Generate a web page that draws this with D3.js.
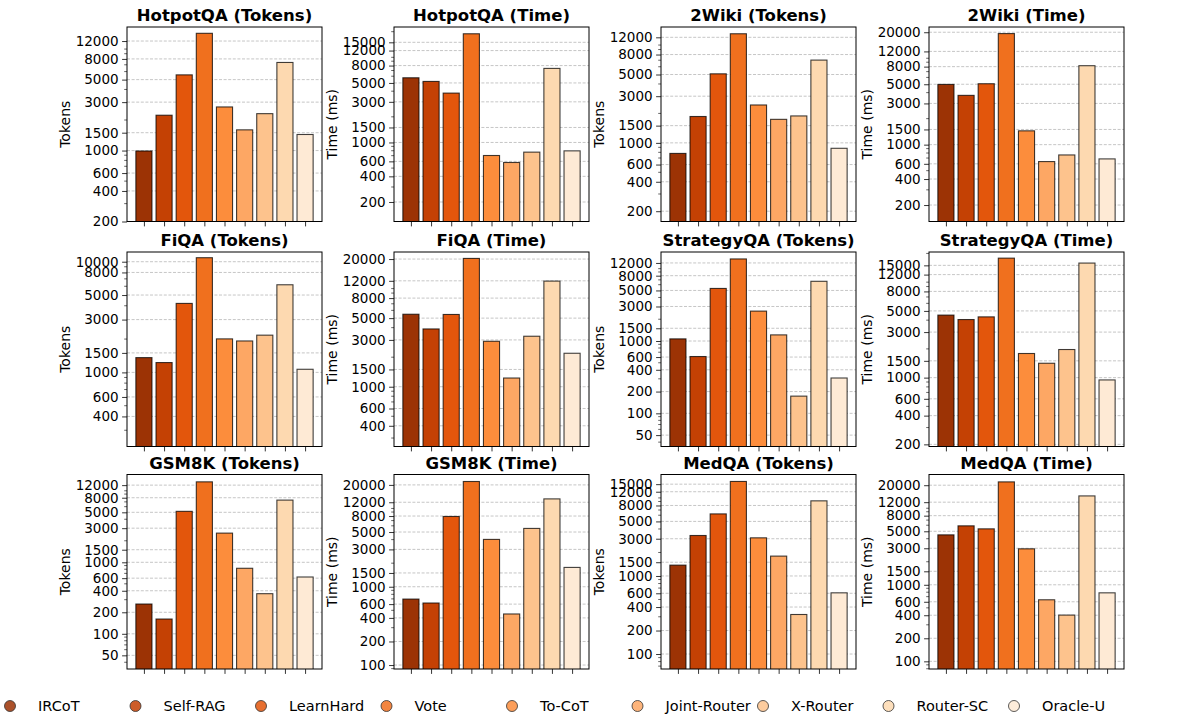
<!DOCTYPE html>
<html>
<head>
<meta charset="utf-8">
<script src="https://cdn.jsdelivr.net/npm/d3@7"></script>
<style>
    body { margin: 0; background: #fff; }
    svg { font-family: "DejaVu Sans", sans-serif; }
</style>
</head>
<body>
<div id="chart"></div>
<script>
// methods + bar colours (Oranges, dark -> light)
var methods = ['IRCoT', 'Self-RAG', 'LearnHard', 'Vote', 'To-CoT', 'Joint-Router', 'X-Router', 'Router-SC', 'Oracle-U'];
var colors = ['#9c3305', '#c44104', '#e3560c', '#f0701e', '#fc8d3c', '#fda764', '#fdc38d', '#fdd9b0', '#feead5'];

// panel titles / y labels, row by row
var titles = ['HotpotQA (Tokens)', 'HotpotQA (Time)', '2Wiki (Tokens)', '2Wiki (Time)',
              'FiQA (Tokens)', 'FiQA (Time)', 'StrategyQA (Tokens)', 'StrategyQA (Time)',
              'GSM8K (Tokens)', 'GSM8K (Time)', 'MedQA (Tokens)', 'MedQA (Time)'];
var yLabels = ['Tokens', 'Time (ms)', 'Tokens', 'Time (ms)',
               'Tokens', 'Time (ms)', 'Tokens', 'Time (ms)',
               'Tokens', 'Time (ms)', 'Tokens', 'Time (ms)'];

// values per panel (same order as methods)
var hotpotTokens = [990, 2230, 5570, 14300, 2690, 1600, 2310, 7380, 1440];
var hotpotTime = [5750, 5210, 3800, 18900, 703, 582, 770, 7410, 797];
var wikiTokens = [780, 1860, 5080, 13050, 2440, 1740, 1885, 7020, 880];
var wikiTime = [4980, 3720, 5070, 19300, 1445, 637, 760, 8200, 684];
var fiqaTokens = [1360, 1227, 4200, 10870, 2008, 1923, 2170, 6190, 1067];
var fiqaTime = [5480, 3880, 5450, 20300, 2905, 1227, 3270, 11920, 2193];
var strategyTokens = [1070, 610, 5330, 13630, 2590, 1215, 173, 6690, 308];
var strategyTime = [4520, 4060, 4330, 17850, 1790, 1415, 1970, 15850, 946];
var gsmTokens = [261, 161, 5160, 13340, 2560, 825, 364, 7410, 623];
var gsmTime = [696, 620, 7900, 22100, 4025, 449, 5560, 13250, 1766];
var medTokens = [1377, 3300, 6240, 16250, 3080, 1797, 321, 9170, 608];
var medTime = [4490, 5890, 5380, 22100, 2950, 637, 402, 14490, 785];

var panelValues = [hotpotTokens, hotpotTime, wikiTokens, wikiTime,
                   fiqaTokens, fiqaTime, strategyTokens, strategyTime,
                   gsmTokens, gsmTime, medTokens, medTime];

// y-axis tick labels per panel
var ticksA = [200, 400, 600, 1000, 1500, 3000, 5000, 8000, 12000];
var ticksB = [200, 400, 600, 1000, 1500, 3000, 5000, 8000, 12000, 15000];
var ticksC = [200, 400, 600, 1000, 1500, 3000, 5000, 8000, 12000, 20000];
var ticksD = [400, 600, 1000, 1500, 3000, 5000, 8000, 10000];
var ticksE = [400, 600, 1000, 1500, 3000, 5000, 8000, 12000, 20000];
var ticksF = [50, 100, 200, 400, 600, 1000, 1500, 3000, 5000, 8000, 12000];
var ticksG = [100, 200, 400, 600, 1000, 1500, 3000, 5000, 8000, 12000, 20000];
var ticksH = [100, 200, 400, 600, 1000, 1500, 3000, 5000, 8000, 12000, 15000];
var panelTicks = [ticksA, ticksB, ticksA, ticksC,
                  ticksD, ticksE, ticksF, ticksB,
                  ticksF, ticksG, ticksH, ticksG];

// y ranges (log) per panel
var panelDomains = [[200, 16500], [118, 22700], [157, 15300], [129, 23000],
                    [214, 12240], [246, 23600], [34.8, 17000], [190, 20700],
                    [32.2, 16900], [89, 27150], [64.3, 19950], [79.4, 27600]];

// layout
var width = 1190, height = 718;
var colLeft = [127, 394, 661, 929];
var rowTop = [27, 252, 474.5];
var plotW = 195, plotH = 194.5;
var font = '"DejaVu Sans", sans-serif';

var svg = d3.select('#chart').append('svg')
    .attr('width', width)
    .attr('height', height);

panelValues.forEach(function (values, p) {
    var left = colLeft[p % 4],
        top = rowTop[Math.floor(p / 4)],
        bottom = top + plotH;

    var xScale = d3.scaleLinear().domain([-0.84, 8.84]).range([left, left + plotW]);
    var yScale = d3.scaleLog().domain(panelDomains[p]).range([bottom, top]);
    var ticks = panelTicks[p];

    var g = svg.append('g').attr('class', 'panel');

    // clip bars to plot area
    var clipId = 'clip' + p;
    g.append('clipPath').attr('id', clipId)
        .append('rect')
        .attr('x', left).attr('y', top)
        .attr('width', plotW).attr('height', plotH);

    // grid lines
    g.append('g')
        .selectAll('line')
        .data(ticks)
        .enter().append('line')
        .attr('x1', left).attr('x2', left + plotW)
        .attr('y1', function (d) { return yScale(d); })
        .attr('y2', function (d) { return yScale(d); })
        .attr('stroke', '#b8b8b8')
        .attr('stroke-width', 0.8)
        .attr('stroke-dasharray', '3,1.6');

    // bars
    g.append('g').attr('clip-path', 'url(#' + clipId + ')')
        .selectAll('rect')
        .data(values)
        .enter().append('rect')
        .attr('x', function (d, i) { return xScale(i - 0.4); })
        .attr('width', xScale(0.4) - xScale(-0.4))
        .attr('y', function (d) { return yScale(d); })
        .attr('height', function (d) { return bottom - yScale(d) + 2; })
        .attr('fill', function (d, i) { return colors[i]; })
        .attr('stroke', '#000')
        .attr('stroke-opacity', 0.75)
        .attr('stroke-width', 1.1);

    // minor log ticks
    var minor = [];
    var dom = panelDomains[p];
    for (var e = Math.floor(Math.log10(dom[0])); e <= Math.ceil(Math.log10(dom[1])); e++) {
        for (var m = 1; m <= 9; m++) {
            var v = m * Math.pow(10, e);
            if (v >= dom[0] && v <= dom[1] && ticks.indexOf(v) < 0) minor.push(v);
        }
    }
    g.append('g')
        .selectAll('line')
        .data(minor)
        .enter().append('line')
        .attr('x1', left - 2.8).attr('x2', left)
        .attr('y1', function (d) { return yScale(d); })
        .attr('y2', function (d) { return yScale(d); })
        .attr('stroke', '#000')
        .attr('stroke-width', 0.6);

    // y axis
    var yAxis = d3.axisLeft(yScale)
        .tickValues(ticks)
        .tickFormat(d3.format('d'))
        .tickSize(4.9)
        .tickPadding(3.5);
    var yG = g.append('g')
        .attr('transform', 'translate(' + left + ',0)')
        .call(yAxis)
        .attr('font-family', font)
        .attr('font-size', 13.5);
    yG.select('.domain').remove();
    yG.selectAll('.tick line').attr('stroke-width', 0.8);
    yG.selectAll('text').style('font-size', '13.5px').attr('fill', '#000');

    // x axis (ticks only, no labels)
    var xAxis = d3.axisBottom(xScale)
        .tickValues(d3.range(methods.length))
        .tickFormat('')
        .tickSize(4.9);
    var xG = g.append('g')
        .attr('transform', 'translate(0,' + bottom + ')')
        .call(xAxis);
    xG.select('.domain').remove();
    xG.selectAll('.tick line').attr('stroke-width', 0.8);

    // frame
    g.append('rect')
        .attr('x', left).attr('y', top)
        .attr('width', plotW).attr('height', plotH)
        .attr('fill', 'none')
        .attr('stroke', '#000')
        .attr('stroke-width', 1);

    // title
    g.append('text')
        .attr('x', left + plotW / 2)
        .attr('y', top - 6)
        .attr('text-anchor', 'middle')
        .style('font-size', '16.5px')
        .style('font-weight', 'bold')
        .text(titles[p]);

    // y label, placed left of the tick labels
    var labelLeft = d3.min(yG.selectAll('text').nodes(), function (n) { return n.getBBox().x; });
    g.append('text')
        .attr('transform', 'translate(' + (left + labelLeft - 6) + ',' + (top + plotH / 2) + ') rotate(-90)')
        .attr('text-anchor', 'middle')
        .style('font-size', '14px')
        .text(yLabels[p]);
});

// legend along the bottom
var legendX = d3.scalePoint().domain(methods).range([10, 1014]);
var legend = svg.append('g')
    .selectAll('g')
    .data(methods)
    .enter().append('g')
    .attr('transform', function (d) { return 'translate(' + legendX(d) + ',706)'; });

legend.append('circle')
    .attr('r', 5.5)
    .attr('fill', function (d, i) { return colors[i]; })
    .attr('fill-opacity', 0.85)
    .attr('stroke', '#333')
    .attr('stroke-width', 0.8);

legend.append('text')
    .attr('x', 28)
    .attr('dy', '0.35em')
    .style('font-size', '14.5px')
    .text(function (d) { return d; });
</script>
</body>
</html>
